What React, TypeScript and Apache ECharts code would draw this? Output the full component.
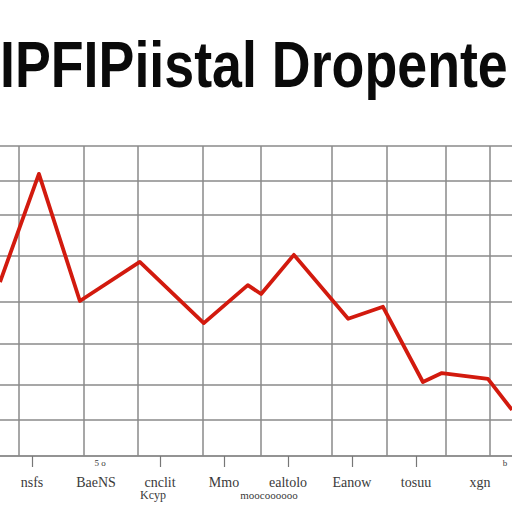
import React, { useEffect, useRef } from "react";
import * as echarts from "echarts";

const titleText = "IPFIPiistal Dropente";
const xLabels = ["nsfs", "BaeNS", "cnclit", "Mmo", "ealtolo", "Eanow", "tosuu", "xgn"];
const tickShown = [true, false, true, true, true, true, true, false];
const lineX = [0, 7.6, 15.6, 27.3, 39.8, 48.4, 51, 57.4, 68, 74.8, 82.6, 86.3, 95.3, 100];
const lineY = [4.49, 7.28, 4.0, 5.01, 3.43, 4.41, 4.18, 5.19, 3.54, 3.85, 1.91, 2.14, 1.99, 1.19];
const vGrid = [3.7, 16.4, 27, 39.6, 51, 64.8, 75.6, 87.1, 95.7];
const hGrid = [0.93, 1.83, 2.89, 3.97, 5.16, 6.22, 7.1, 8];

export default function App() {
  const ref = useRef<HTMLDivElement>(null);
  useEffect(() => {
    if (!ref.current) return;
    const chart = echarts.init(ref.current, undefined, { renderer: "svg" });
    const gridLine = { color: "#8a8a8a", width: 1.5, type: "solid" as const };
    chart.setOption({
      animation: false,
      backgroundColor: "#ffffff",
      grid: [
        { left: 0, right: 0, top: 146, bottom: 56 },
        { left: -1, width: 539, top: 146, bottom: 56 },
      ],
      xAxis: [
        {
          type: "value",
          gridIndex: 0,
          min: 0,
          max: 100,
          axisLine: { show: true, lineStyle: { color: "#6f6f6f", width: 1.5 } },
          axisTick: { show: false },
          axisLabel: { show: false },
          splitLine: { show: false },
        },
        {
          type: "category",
          gridIndex: 1,
          data: xLabels,
          boundaryGap: true,
          axisLine: { show: false },
          axisTick: {
            show: true,
            alignWithLabel: true,
            length: 11,
            interval: (i: number) => tickShown[i],
            lineStyle: { color: "#777", width: 1.2 },
          },
          axisLabel: {
            margin: 19,
            color: "#3a3a3a",
            fontSize: 14,
            fontFamily: "Liberation Serif",
            interval: 0,
          },
        },
      ],
      yAxis: [
        { type: "value", gridIndex: 0, min: 0, max: 8, show: false },
        { type: "value", gridIndex: 1, min: 0, max: 1, show: false },
      ],
      graphic: [
        {
          type: "text",
          x: 0,
          y: 65,
          scaleX: 0.84,
          style: {
            text: titleText,
            font: 'bold 64px "Liberation Sans"',
            fill: "#0a0a0a",
            align: "left",
            verticalAlign: "middle",
          },
        },
        { type: "text", x: 153, y: 495, style: { text: "Kcyp", font: '12px "Liberation Serif"', fill: "#3a3a3a", align: "center", verticalAlign: "middle" } },
        { type: "text", x: 269, y: 495, style: { text: "moocoooooo", font: '11px "Liberation Serif"', fill: "#3a3a3a", align: "center", verticalAlign: "middle" } },
        { type: "text", x: 100, y: 463, style: { text: "5 o", font: '9px "Liberation Serif"', fill: "#3a3a3a", align: "center", verticalAlign: "middle" } },
        { type: "text", x: 505, y: 463, style: { text: "b", font: '9px "Liberation Serif"', fill: "#3a3a3a", align: "center", verticalAlign: "middle" } },
      ],
      series: [
        {
          type: "line",
          xAxisIndex: 0,
          yAxisIndex: 0,
          data: [],
          z: 1,
          silent: true,
          markLine: {
            silent: true,
            symbol: "none",
            label: { show: false },
            lineStyle: gridLine,
            data: [
              ...vGrid.map((v) => ({ xAxis: v })),
              ...hGrid.map((v) => ({ yAxis: v })),
            ],
          },
        },
        {
          type: "line",
          xAxisIndex: 0,
          yAxisIndex: 0,
          z: 5,
          data: lineX.map((x, i) => [x, lineY[i]]),
          showSymbol: false,
          symbol: "none",
          lineStyle: { color: "#d21a0e", width: 3.8, join: "round" },
        },
      ],
    });
    return () => chart.dispose();
  }, []);
  return (
    <div
      ref={ref}
      style={{ position: "fixed", left: 0, top: 0, width: 512, height: 512 }}
    />
  );
}
